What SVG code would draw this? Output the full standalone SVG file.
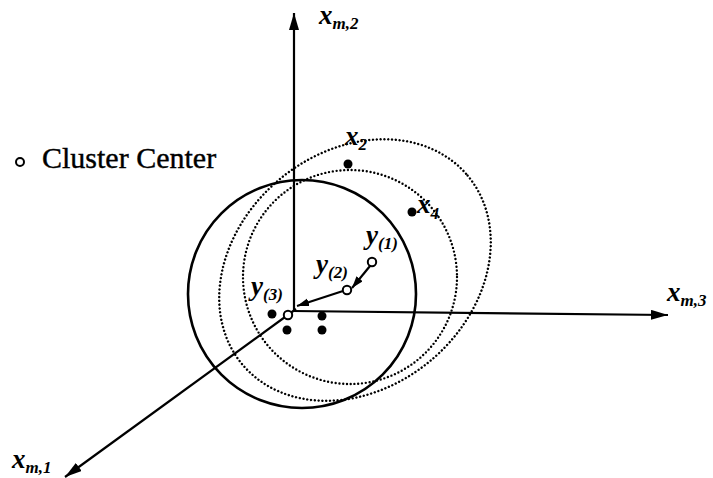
<svg xmlns="http://www.w3.org/2000/svg" width="713" height="478" viewBox="0 0 713 478">
<style>
.ax{stroke:#000;stroke-width:2.2;fill:none}
.solid{stroke:#000;stroke-width:2.6;fill:none}
.dot{stroke:#000;stroke-width:2.4;fill:none;stroke-dasharray:0 3.8;stroke-linecap:round}
.pt{fill:#000}
.ctr{fill:#fff;stroke:#000;stroke-width:2}
.it{font-family:"Liberation Serif","Times New Roman",serif;font-style:italic;fill:#000}
.main{font-size:27px;font-weight:bold}
.sub{font-size:17px;font-weight:bold}
.lbl{font-family:"Liberation Serif","Times New Roman",serif;font-size:30px;fill:#000;stroke:#000;stroke-width:0.4}
</style>
<defs>
<marker id="ah" markerUnits="userSpaceOnUse" markerWidth="18" markerHeight="12" refX="17" refY="5" orient="auto">
<path d="M0,0 L17,5 L0,10 z" fill="#000"/>
</marker>
<marker id="as" markerUnits="userSpaceOnUse" markerWidth="14" markerHeight="10" refX="12" refY="4" orient="auto">
<path d="M0,0 L12,4 L0,8 z" fill="#000"/>
</marker>
</defs>
<g id="circles">
<circle class="solid" cx="302" cy="294" r="114"/>
<circle class="dot" cx="350" cy="277" r="107"/>
<ellipse class="dot" cx="355" cy="270" rx="147" ry="118" transform="rotate(-40 355 270)"/>
</g>
<g id="connectors">
<line class="ax" x1="294" y1="311" x2="294" y2="13" marker-end="url(#ah)"/>
<line class="ax" x1="293" y1="311" x2="668" y2="315" marker-end="url(#ah)"/>
<line class="ax" x1="296" y1="309" x2="65" y2="477" marker-end="url(#ah)"/>
<line class="ax" x1="370" y1="266" x2="352" y2="288" marker-end="url(#as)"/>
<line class="ax" x1="343" y1="291" x2="297" y2="306" marker-end="url(#as)"/>
</g>
<g id="data-points">
<circle class="pt" cx="348" cy="164" r="4.5"/>
<circle class="pt" cx="412" cy="212" r="4.5"/>
<circle class="pt" cx="272" cy="314" r="4.5"/>
<circle class="pt" cx="287" cy="330" r="4.5"/>
<circle class="pt" cx="322" cy="316" r="4.5"/>
<circle class="pt" cx="322" cy="330" r="4.5"/>
</g>
<g id="centers">
<circle class="ctr" cx="372" cy="262" r="4.2"/>
<circle class="ctr" cx="347" cy="290" r="4.2"/>
<circle class="ctr" cx="288" cy="315" r="4.2"/>
</g>
<g id="legend">
<circle class="ctr" cx="20" cy="162" r="4"/>
<text class="lbl" x="42" y="168">Cluster Center</text>
</g>
<g id="labels">
<text class="it" x="319" y="24"><tspan class="main">x</tspan><tspan class="sub" dy="5">m,2</tspan></text>
<text class="it" x="667" y="301"><tspan class="main">x</tspan><tspan class="sub" dy="5">m,3</tspan></text>
<text class="it" x="12" y="468"><tspan class="main">x</tspan><tspan class="sub" dy="5">m,1</tspan></text>
<text class="it" x="345" y="145"><tspan class="main">x</tspan><tspan class="sub" dy="5">2</tspan></text>
<text class="it" x="417" y="213"><tspan class="main">x</tspan><tspan class="sub" dy="6">4</tspan></text>
<text class="it" x="366" y="244"><tspan class="main">y</tspan><tspan class="sub" dy="5">(1)</tspan></text>
<text class="it" x="316" y="273"><tspan class="main">y</tspan><tspan class="sub" dy="5">(2)</tspan></text>
<text class="it" x="251" y="295"><tspan class="main">y</tspan><tspan class="sub" dy="5">(3)</tspan></text>
</g>
</svg>
